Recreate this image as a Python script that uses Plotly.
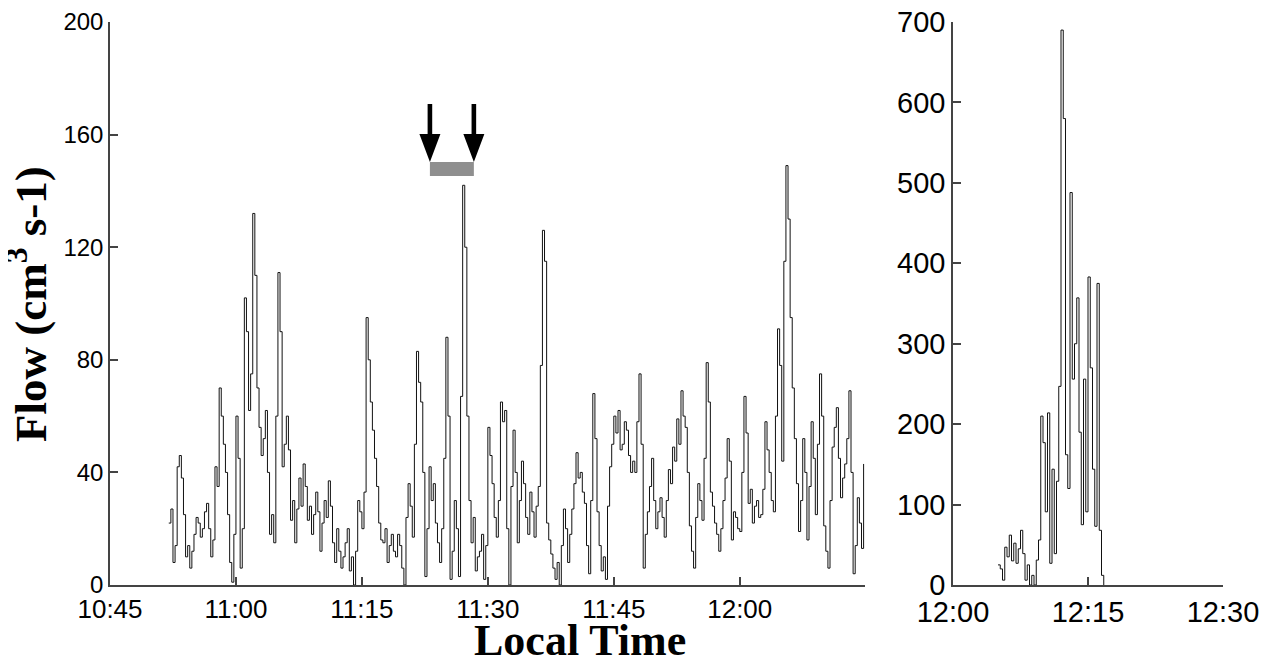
import pandas as pd
import plotly.graph_objects as go

# ---------------- data ----------------
LEFT_START = "2000-01-01 10:52:00"
LEFT_STEP = "15s"
left_flow = [22, 27, 8, 14, 42, 46, 38, 25, 10, 14, 6, 12, 18, 24, 22, 17, 20, 26, 29, 20,
             10, 16, 42, 35, 70, 60, 50, 40, 25, 8, 1, 18, 60, 45, 6, 20, 102, 90, 62, 75,
             132, 110, 70, 56, 46, 52, 62, 40, 18, 25, 15, 60, 111, 90, 42, 50, 60, 48, 23, 30,
             15, 27, 38, 28, 43, 35, 23, 28, 18, 25, 33, 26, 12, 22, 30, 24, 37, 28, 15, 8,
             20, 12, 6, 10, 15, 20, 5, 10, 0, 12, 30, 26, 20, 33, 95, 80, 65, 55, 45, 35,
             22, 16, 15, 20, 8, 14, 18, 12, 10, 18, 14, 6, 0, 24, 36, 28, 17, 50, 83, 72,
             65, 40, 3, 20, 42, 30, 36, 22, 15, 8, 20, 45, 88, 60, 2, 12, 30, 20, 3, 67,
             142, 120, 60, 30, 15, 24, 5, 10, 12, 18, 2, 14, 56, 46, 36, 24, 17, 30, 65, 58,
             62, 20, 0, 35, 55, 40, 15, 30, 44, 36, 24, 18, 33, 26, 17, 28, 35, 78, 126, 115,
             22, 16, 11, 6, 2, 8, 0, 14, 27, 20, 8, 18, 27, 36, 47, 38, 40, 33, 29, 14,
             4, 30, 68, 52, 26, 14, 5, 10, 2, 28, 42, 50, 60, 54, 62, 48, 50, 58, 55, 46,
             40, 44, 40, 58, 75, 50, 6, 18, 26, 35, 45, 30, 20, 26, 31, 24, 17, 30, 41, 36,
             49, 44, 59, 50, 69, 60, 56, 40, 21, 12, 6, 24, 36, 30, 23, 45, 79, 65, 33, 28,
             22, 18, 12, 20, 30, 38, 52, 44, 16, 26, 24, 20, 19, 40, 67, 54, 29, 34, 22, 28,
             30, 24, 25, 34, 58, 48, 40, 30, 26, 60, 91, 78, 44, 115, 149, 130, 95, 70, 52, 36,
             19, 30, 52, 40, 16, 35, 58, 45, 25, 50, 75, 60, 21, 12, 6, 30, 49, 56, 63, 45,
             31, 38, 43, 52, 69, 40, 4, 14, 31, 22, 13, 43]

RIGHT_START = "2000-01-01 12:05:00"
RIGHT_STEP = "15s"
right_flow = [25, 20, 6, 47, 35, 62, 30, 52, 27, 45, 68, 39, 6, 25, 0, 12, 0, 31, 56, 210,
              177, 91, 214, 27, 144, 39, 129, 247, 690, 580, 162, 120, 488, 256, 300, 357, 190, 75, 256, 91,
              383, 270, 144, 73, 375, 68, 12, 0]

LEFT_RANGE = ["2000-01-01 10:45", "2000-01-01 12:14:55"]
RIGHT_RANGE = ["2000-01-01 12:00", "2000-01-01 12:30"]
LEFT_Y_RANGE = [0, 200.01]
RIGHT_Y_RANGE = [0, 700.05]

Y_TITLE = "<b>Flow (cm<sup>3</sup> s-1)</b>"
X_TITLE = "<b>Local Time</b>"

# treatment period (arrows + grey bar)
TREAT_START = "2000-01-01 11:23:06"
TREAT_END = "2000-01-01 11:28:20"
BAR_BOTTOM, BAR_TOP = 145.3, 150.3

left_t = pd.date_range(LEFT_START, periods=len(left_flow), freq=LEFT_STEP)
right_t = pd.date_range(RIGHT_START, periods=len(right_flow), freq=RIGHT_STEP)

# ---------------- figure ----------------
# page has an 8px body margin, so the figure is 16px smaller than the window
W, H = 1259, 656
OFF = 8
fig = go.Figure()
line_style = dict(color="#111111", width=1, shape="hv")
fig.add_trace(go.Scatter(x=left_t, y=left_flow, mode="lines", line=line_style,
                         xaxis="x", yaxis="y", showlegend=False))
fig.add_trace(go.Scatter(x=right_t, y=right_flow, mode="lines", line=line_style,
                         xaxis="x2", yaxis="y2", showlegend=False))

axis_col = "#444444"
sans = "Liberation Sans, Arial, sans-serif"
serif = "Liberation Serif, Times New Roman, serif"
tickfont_l = dict(family=sans, size=24, color="black")
tickfont_x = dict(family=sans, size=26, color="black")
tickfont_r = dict(family=sans, size=29, color="black")

common = dict(showgrid=False, zeroline=False, showline=True, linecolor=axis_col, linewidth=1.5,
              ticks="inside", ticklen=8, tickcolor=axis_col, tickwidth=1.5, automargin=False,
              ticklabeloverflow="allow")


def px(x):
    return (x - OFF) / W


def py(y):
    return 1 - (y - OFF) / H


ydom = [py(585), py(22)]
fig.update_layout(
    width=W, height=H,
    margin=dict(l=0, r=0, t=0, b=0, autoexpand=False),
    paper_bgcolor="white", plot_bgcolor="white",
    xaxis=dict(domain=[px(110), px(865)], type="date", range=LEFT_RANGE,
               tick0="2000-01-01 10:45", dtick=15 * 60 * 1000, tickformat="%H:%M",
               tickfont=tickfont_x, anchor="y", **common),
    yaxis=dict(domain=ydom, range=LEFT_Y_RANGE, tick0=0, dtick=40, tickfont=tickfont_l, anchor="x",
               **common),
    xaxis2=dict(domain=[px(953), px(1223)], type="date", range=RIGHT_RANGE,
                tick0=RIGHT_RANGE[0], dtick=15 * 60 * 1000, tickformat="%H:%M",
                tickfont=tickfont_r, anchor="y2", **common),
    yaxis2=dict(domain=ydom, range=RIGHT_Y_RANGE, tick0=0, dtick=100, tickfont=tickfont_r, anchor="x2",
                **common),
)

fig.add_annotation(text=Y_TITLE, xref="paper", yref="paper", textangle=-90,
                   x=px(27), y=py(304), xanchor="center", yanchor="middle",
                   showarrow=False, font=dict(family=serif, size=45, color="black"))
fig.add_annotation(text=X_TITLE, xref="paper", yref="paper",
                   x=px(580), y=py(640), xanchor="center", yanchor="middle",
                   showarrow=False, font=dict(family=serif, size=44, color="black"))

# grey bar marking the treatment period
fig.add_shape(type="rect", xref="x", yref="y", x0=TREAT_START, x1=TREAT_END,
              y0=BAR_BOTTOM, y1=BAR_TOP, fillcolor="#8f8f8f", line=dict(width=0), layer="above")

# downward arrows (drawn in pixels, anchored at bar top)
arrow_path = "M-2.3,58 L2.3,58 L2.3,28 L10.5,28 L0,0 L-10.5,28 L-2.3,28 Z"
for t in (TREAT_START, TREAT_END):
    fig.add_shape(type="path", xref="x", yref="y", xsizemode="pixel", ysizemode="pixel",
                  xanchor=t, yanchor=BAR_TOP, path=arrow_path,
                  fillcolor="black", line=dict(width=0), layer="above")

fig.write_html("out.html")
